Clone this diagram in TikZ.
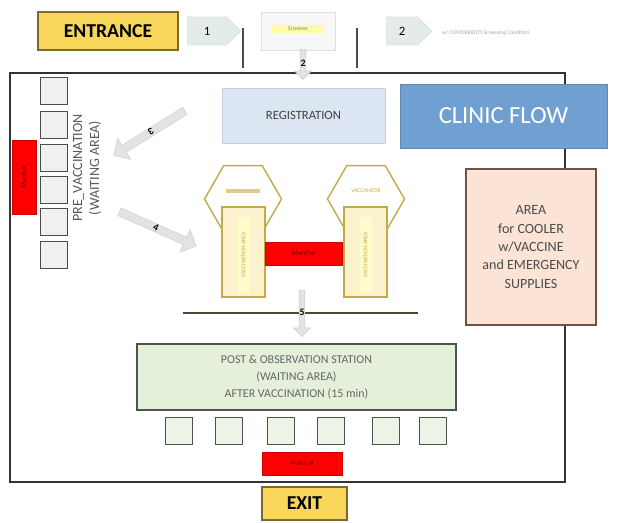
\documentclass[tikz,border=0pt]{standalone}
\usepackage{fontspec}
\setmainfont{Carlito}
\usetikzlibrary{shapes.arrows,shapes.symbols,shapes.geometric}

\definecolor{doorfill}{RGB}{247,214,90}
\definecolor{doorline}{RGB}{125,105,45}
\definecolor{stepfill}{RGB}{228,236,232}
\definecolor{regfill}{RGB}{220,230,242}
\definecolor{regline}{RGB}{195,205,220}
\definecolor{flowfill}{RGB}{112,160,210}
\definecolor{boothline}{RGB}{195,170,70}
\definecolor{boothfill}{RGB}{252,242,205}
\definecolor{obsfill}{RGB}{228,240,218}
\definecolor{obsline}{RGB}{75,85,75}
\definecolor{areafill}{RGB}{251,228,214}
\definecolor{arealine}{RGB}{115,80,70}

\tikzset{
  door/.style={draw=doorline,line width=1pt,fill=doorfill,font=\fontsize{14}{16}\selectfont\bfseries,inner sep=0pt},
  stepsign/.style={signal,signal to=east,draw=gray!25,fill=stepfill,inner sep=0pt,font=\small},
  flowarrow/.style={single arrow,draw=gray!35,fill=gray!22,inner sep=0pt,single arrow head extend=4pt,font=\scriptsize\bfseries},
  seat/.style={draw=gray!60!black,fill=gray!12,minimum size=0.675cm,inner sep=0pt},
  greenseat/.style={draw=obsline,fill=obsfill!70,minimum size=0.675cm,inner sep=0pt},
  marshal/.style={fill=red,draw=red!80!black,inner sep=0pt,font=\fontsize{5}{6}\selectfont,text=red!45!black},
  booth/.style={regular polygon,regular polygon sides=6,draw=boothline,line width=1pt,minimum size=1.925cm,inner sep=0pt},
  cubicle/.style={draw=boothline,line width=1pt,fill=boothfill,minimum width=1.075cm,minimum height=2.25cm,inner sep=0pt}
}

\begin{document}
\begin{tikzpicture}[x=0.025cm,y=-0.025cm]
        \useasboundingbox (0,0) rectangle (638,523);
        % top row
        \node[door,minimum width=3.5cm,minimum height=0.95cm] at (108,31) (entrance) {ENTRANCE};
        \node[stepsign,minimum width=1.33cm,minimum height=0.7cm] at (207,31) (step1) {1};
        \node[draw=gray!25,fill=gray!6,minimum width=1.85cm,minimum height=0.95cm] at (298,31) (screen) {};
        \node[fill=yellow!35,minimum width=1.3cm,minimum height=0.22cm,inner sep=0pt,font=\fontsize{4}{5}\selectfont,text=gray] at (298,29) (screenlbl) {Screener};
        \node[stepsign,minimum width=1.13cm,minimum height=0.7cm] at (402,31) (step2) {2};
        \node[anchor=west,font=\fontsize{4}{5}\selectfont,text=gray!70] at (437,33) (note) {w/ COMORBIDITY Screening Condition};
        \coordinate (l1a) at (243,28);
        \coordinate (l1b) at (243,68);
        \coordinate (l2a) at (357,28);
        \coordinate (l2b) at (357,68);
        \draw[line width=1.2pt,black!70] (l1a) -- (l1b);
        \draw[line width=1.2pt,black!70] (l2a) -- (l2b);

        % room outline
        \coordinate (c1) at (10,73);
        \coordinate (c2) at (565,73);
        \coordinate (c3) at (565,482);
        \coordinate (c4) at (10,482);
        \draw[line width=1.2pt,black!80] (c1) -- (c2) -- (c3) -- (c4) -- cycle;

        \node[flowarrow,rotate=-90,minimum height=0.75cm,minimum width=0.3cm] at (303,63) (down2) {\rotatebox{90}{2}};

        % registration and title
        \node[draw=regline,fill=regfill,minimum width=4.075cm,minimum height=1.375cm,font=\fontsize{9}{11}\selectfont,text=black!75] at (303.5,115.5) (reg) {REGISTRATION};
        \node[fill=flowfill,draw=flowfill!85!black,minimum width=5.175cm,minimum height=1.6cm,font=\fontsize{17.5}{20}\selectfont,text=white] at (503.5,116) (title) {CLINIC FLOW};
        \node[draw=arealine,line width=1pt,fill=areafill,minimum width=3.25cm,minimum height=3.9cm,align=center,font=\fontsize{10}{13}\selectfont,text=black!70] at (531,247) (area) {AREA\\for COOLER\\w/VACCINE\\and EMERGENCY\\SUPPLIES};

        % pre-vaccination seats
        \foreach \y/\n in {91/1,125/2,158/3,190/4,222/5,255/6}
            \node[seat] at (54,\y) (pre\n) {};
        \node[marshal,minimum width=0.6cm,minimum height=1.85cm] at (24,177) (mleft) {\rotatebox{90}{Marshal}};
        \node[rotate=90,align=center,font=\fontsize{10}{12}\selectfont,text=black!65] at (87,168) (prelbl) {PRE\_VACCINATION\\(WAITING AREA)};

        \node[flowarrow,rotate=212,minimum height=2.1cm,minimum width=0.62cm,single arrow head extend=5pt] at (151,132) (go3) {3};
        \node[flowarrow,rotate=-24,minimum height=2.1cm,minimum width=0.62cm,single arrow head extend=5pt] at (156,228) (go4) {4};

        % vaccination booths
        \node[booth] at (243,199) (hexl) {};
        \node[booth] at (366,199) (hexr) {};
        \node[fill=boothline!60,minimum width=0.85cm,minimum height=0.12cm,inner sep=0pt] at (243,191) (winl) {};
        \node[font=\fontsize{4}{5}\selectfont,text=boothline] at (366,191) (winr) {VACCINATOR};
        \node[cubicle] at (243.5,252) (boothl) {};
        \node[cubicle] at (365.5,252) (boothr) {};
        \node[fill=boothfill!60!yellow!40,minimum width=0.3cm,minimum height=1.9cm,inner sep=0pt,font=\fontsize{4}{5}\selectfont,text=boothline] at (243.5,255) (tagl) {\rotatebox{90}{VACCINATION AREA}};
        \node[fill=boothfill!60!yellow!40,minimum width=0.3cm,minimum height=1.9cm,inner sep=0pt,font=\fontsize{4}{5}\selectfont,text=boothline] at (365.5,255) (tagr) {\rotatebox{90}{VACCINATION AREA}};
        \node[marshal,minimum width=1.925cm,minimum height=0.575cm] at (303.5,253.5) (mmid) {Marshal};

        \coordinate (rail1) at (183,313);
        \coordinate (rail2) at (418,313);
        \draw[line width=1.2pt,black!60!olive] (rail1) -- (rail2);
        \node[flowarrow,rotate=-90,minimum height=1.15cm,minimum width=0.35cm] at (302,312) (go5) {\rotatebox{90}{5}};

        % observation area
        \node[draw=obsline,line width=1pt,fill=obsfill,minimum width=7.975cm,minimum height=1.65cm,align=center,font=\fontsize{8.5}{12}\selectfont,text=black!60] at (296.5,377) (obs) {POST \& OBSERVATION STATION\\(WAITING AREA)\\AFTER VACCINATION (15 min)};
        \foreach \x/\n in {179/1,229/2,281/3,331/4,386/5,433/6}
            \node[greenseat] at (\x,431) (post\n) {};
        \node[marshal,minimum width=2cm,minimum height=0.575cm] at (302,463.5) (mbot) {Marshal};

        \node[door,minimum width=2.125cm,minimum height=0.825cm] at (304.5,503.5) (exit) {EXIT};
    \end{tikzpicture}
\end{document}
